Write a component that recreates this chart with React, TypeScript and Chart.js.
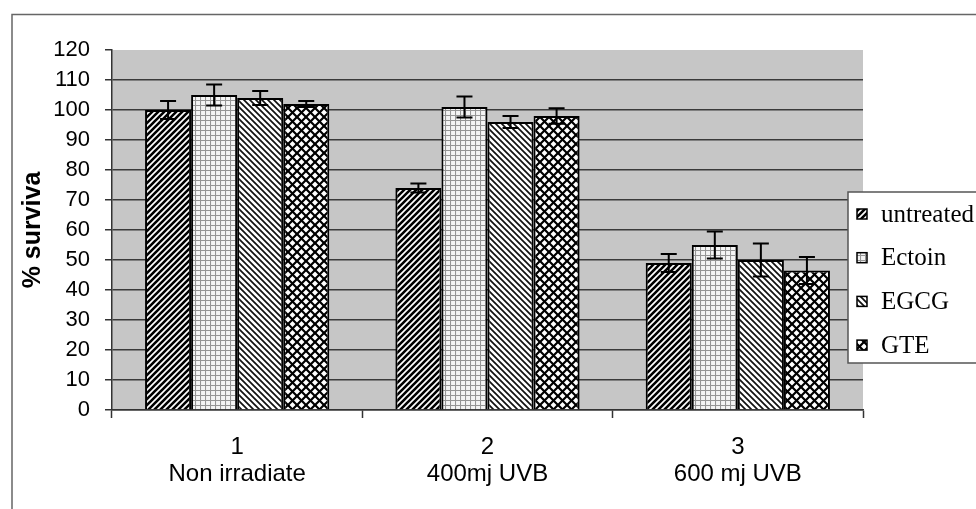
import { useEffect, useRef } from "react";
import { Chart, registerables } from "chart.js";

Chart.register(...registerables);

// ---- data ----
const categoryNumbers = ["1", "2", "3"];
const categoryNames = ["Non irradiate", "400mj UVB", "600 mj UVB"];
const seriesNames = ["untreated", "Ectoin", "EGCG", "GTE"];
const untreatedValues = [100, 74, 49];
const ectoinValues = [105, 101, 55];
const egcgValues = [104, 96, 50];
const gteValues = [102, 98, 46.5];
const untreatedErr = [3, 1.5, 3];
const ectoinErr = [3.5, 3.5, 4.5];
const egcgErr = [2.3, 2, 5.5];
const gteErr = [1, 2.6, 4.5];
const yMin = 0;
const yMax = 120;
const yStep = 10;
const yTitle = "% surviva";

const SANS = "'Liberation Sans', Arial, sans-serif";
const SERIF = "'Liberation Serif', 'Times New Roman', serif";

function makeTile(kind: string): HTMLCanvasElement {
  const c = document.createElement("canvas");
  let s = 6;
  if (kind === "grid") s = 5;
  if (kind === "cross") s = 9;
  c.width = s;
  c.height = s;
  const g = c.getContext("2d")!;
  g.fillStyle = "#ffffff";
  g.fillRect(0, 0, s, s);
  g.lineCap = "square";
  const up = (lw: number) => {
    g.lineWidth = lw;
    g.beginPath();
    g.moveTo(0, s);
    g.lineTo(s, 0);
    g.moveTo(-1, 1);
    g.lineTo(1, -1);
    g.moveTo(s - 1, s + 1);
    g.lineTo(s + 1, s - 1);
    g.stroke();
  };
  const down = (lw: number) => {
    g.lineWidth = lw;
    g.beginPath();
    g.moveTo(0, 0);
    g.lineTo(s, s);
    g.moveTo(s - 1, -1);
    g.lineTo(s + 1, 1);
    g.moveTo(-1, s - 1);
    g.lineTo(1, s + 1);
    g.stroke();
  };
  if (kind === "up") {
    g.strokeStyle = "#000";
    up(2.6);
  } else if (kind === "down") {
    g.strokeStyle = "#111";
    down(1.7);
  } else if (kind === "grid") {
    g.fillStyle = "#f4f4f4";
    g.fillRect(0, 0, s, s);
    g.strokeStyle = "#959595";
    g.lineWidth = 1.1;
    g.beginPath();
    g.moveTo(0.5, 0);
    g.lineTo(0.5, s);
    g.moveTo(0, 0.5);
    g.lineTo(s, 0.5);
    g.stroke();
  } else if (kind === "cross") {
    g.strokeStyle = "#000";
    up(2.2);
    down(2.2);
  }
  return c;
}

function makePattern(kind: string): CanvasPattern {
  const c = document.createElement("canvas");
  const ctx = c.getContext("2d")!;
  return ctx.createPattern(makeTile(kind), "repeat")!;
}

export default function App() {
  const ref = useRef<HTMLCanvasElement | null>(null);

  useEffect(() => {
    document.body.style.margin = "0";
    const canvas = ref.current;
    if (!canvas) return;

    const patterns = [
      makePattern("up"),
      makePattern("grid"),
      makePattern("down"),
      makePattern("cross"),
    ];
    const values = [untreatedValues, ectoinValues, egcgValues, gteValues];
    const errors = [untreatedErr, ectoinErr, egcgErr, gteErr];

    const backgroundPlugin = {
      id: "bg",
      beforeDraw(chart: any) {
        const { ctx, chartArea, width, height } = chart;
        ctx.save();
        ctx.fillStyle = "#ffffff";
        ctx.fillRect(0, 0, width, height);
        ctx.fillStyle = "#c6c6c6";
        ctx.fillRect(
          chartArea.left,
          chartArea.top,
          chartArea.right - chartArea.left,
          chartArea.bottom - chartArea.top
        );
        ctx.strokeStyle = "#666";
        ctx.lineWidth = 1.5;
        ctx.beginPath();
        ctx.moveTo(12, height + 2);
        ctx.lineTo(12, 14.5);
        ctx.lineTo(width + 2, 14.5);
        ctx.stroke();
        ctx.restore();
      },
    };

    const errorPlugin = {
      id: "errbars",
      afterDatasetsDraw(chart: any) {
        const { ctx } = chart;
        const ys = chart.scales.y;
        ctx.save();
        ctx.strokeStyle = "#000";
        ctx.lineWidth = 2;
        chart.data.datasets.forEach((ds: any, i: number) => {
          const meta = chart.getDatasetMeta(i);
          meta.data.forEach((el: any, j: number) => {
            const v = ds.data[j];
            const e = errors[i][j];
            const yt = ys.getPixelForValue(v + e);
            const yb = ys.getPixelForValue(v - e);
            const x = el.x;
            const hw = 8;
            ctx.beginPath();
            ctx.moveTo(x, yt);
            ctx.lineTo(x, yb);
            ctx.moveTo(x - hw, yt);
            ctx.lineTo(x + hw, yt);
            ctx.moveTo(x - hw, yb);
            ctx.lineTo(x + hw, yb);
            ctx.stroke();
          });
        });
        ctx.restore();
      },
    };

    const legendPlugin = {
      id: "boxlegend",
      afterDraw(chart: any) {
        const { ctx } = chart;
        const left = 848;
        const top = 192;
        const bottom = 363;
        ctx.save();
        ctx.fillStyle = "#ffffff";
        ctx.fillRect(left, top, 200, bottom - top);
        ctx.strokeStyle = "#555";
        ctx.lineWidth = 1.5;
        ctx.strokeRect(left, top, 200, bottom - top);
        ctx.font = `25px ${SERIF}`;
        ctx.textBaseline = "middle";
        ctx.textAlign = "left";
        chart.data.datasets.forEach((ds: any, i: number) => {
          const cy = top + 22 + i * 43.7;
          ctx.fillStyle = ds.backgroundColor;
          ctx.fillRect(857, cy - 5, 10, 10);
          ctx.strokeStyle = "#000";
          ctx.lineWidth = 1.5;
          ctx.strokeRect(857, cy - 5, 10, 10);
          ctx.fillStyle = "#000";
          ctx.fillText(ds.label, 881, cy + 1);
        });
        ctx.restore();
      },
    };

    const chart = new Chart(canvas, {
      type: "bar",
      data: {
        labels: categoryNumbers.map((n, i) => [n, categoryNames[i]]),
        datasets: seriesNames.map((name, i) => ({
          label: name,
          data: values[i],
          backgroundColor: patterns[i] as any,
          borderColor: "#000",
          borderWidth: 2,
          categoryPercentage: 0.736,
          barPercentage: 1,
        })),
      },
      options: {
        animation: false,
        responsive: true,
        maintainAspectRatio: false,
        layout: { padding: { left: 0, top: 50, right: 113, bottom: 0 } },
        plugins: {
          legend: { display: false },
          tooltip: { enabled: false },
        },
        scales: {
          x: {
            grid: {
              display: true,
              drawOnChartArea: false,
              tickLength: 8,
              tickColor: "#333",
              tickWidth: 1.5,
              offset: true,
            },
            border: { color: "#333", width: 1.5 },
            ticks: {
              color: "#000",
              font: { family: SANS, size: 24, lineHeight: 1.125 },
              padding: 16,
              maxRotation: 0,
              autoSkip: false,
            },
            afterFit(scale: any) {
              scale.height = 99;
            },
          },
          y: {
            min: yMin,
            max: yMax,
            grid: {
              color: (c: any) =>
                c.tick && c.tick.value === yMax ? "rgba(0,0,0,0)" : "#3a3a3a",
              lineWidth: 1.5,
              tickLength: 7,
              tickColor: "#333",
              tickWidth: 1.5,
            },
            border: { color: "#333", width: 1.5 },
            ticks: {
              stepSize: yStep,
              color: "#000",
              font: { family: SANS, size: 22 },
              padding: 15,
            },
            title: {
              display: true,
              text: yTitle,
              color: "#000",
              font: { family: SANS, size: 25, weight: "bold" },
              padding: { top: 18, bottom: 0 },
            },
            afterFit(scale: any) {
              scale.width = 112;
            },
          },
        },
      },
      plugins: [backgroundPlugin, errorPlugin, legendPlugin],
    });

    return () => chart.destroy();
  }, []);

  return (
    <div style={{ position: "relative", width: "976px", height: "509px" }}>
      <canvas ref={ref} />
    </div>
  );
}
